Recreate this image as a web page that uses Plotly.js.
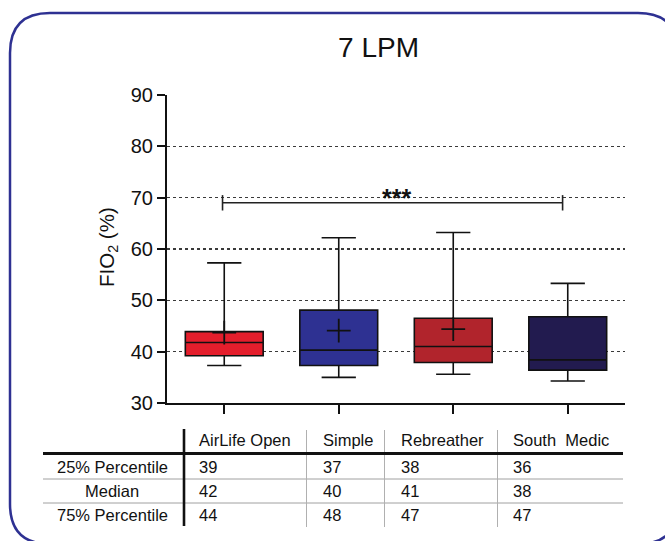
<!DOCTYPE html>
<html>
<head>
<meta charset="utf-8">
<script src="https://cdn.plot.ly/plotly-3.0.1.min.js"></script>
<style>
  html, body { margin: 0; padding: 0; background: #ffffff; }
  #chart { width: 665px; height: 541px; }
</style>
</head>
<body>
<div id="chart"></div>
<script>
// ---------------- data ----------------
const categories = ['AirLife Open', 'Simple', 'Rebreather', 'South Medic'];
const boxColors = ['#e41e2c', '#2e3192', '#b1242c', '#221b4f'];
const lowerWhisker = [37.3, 35.0, 35.6, 34.3];
const q1Values = [39.2, 37.3, 37.9, 36.4];
const medianValues = [41.8, 40.3, 41.0, 38.4];
const q3Values = [43.9, 48.1, 46.5, 46.8];
const upperWhisker = [57.3, 62.2, 63.2, 53.3];
const meanValues = [43.7, 44.1, 44.4, null];

const yTicks = [30, 40, 50, 60, 70, 80, 90];

const sigFrom = 0, sigTo = 3, sigLevel = 69, sigLabel = '***';

const tableHeader = ['AirLife Open', 'Simple', 'Rebreather', 'South\u00a0 Medic'];
const tableRowLabels = ['25% Percentile', 'Median', '75% Percentile'];
const tableP25 = [39, 37, 38, 36];
const tableMedian = [42, 40, 41, 38];
const tableP75 = [44, 48, 47, 47];

// ---------------- layout geometry ----------------
const W = 665, H = 541;
const M = { l: 167, r: 40, t: 95, b: 138 };
const PW = W - M.l - M.r, PH = H - M.t - M.b;
const px = x => (x - M.l) / PW;            // pixel x -> paper x
const py = y => (H - M.b - y) / PH;        // pixel y -> paper y

const FONT = '"Liberation Sans", Arial, Helvetica, sans-serif';

// ---------------- traces ----------------
const traces = [];
categories.forEach((c, i) => {
  traces.push({
    type: 'box',
    name: c,
    x: [i],
    q1: [q1Values[i]],
    median: [medianValues[i]],
    q3: [q3Values[i]],
    lowerfence: [lowerWhisker[i]],
    upperfence: [upperWhisker[i]],
    boxpoints: false,
    width: 0.68,
    whiskerwidth: 0.44,
    fillcolor: boxColors[i],
    line: { color: '#111111', width: 1.6 },
    hoverinfo: 'skip'
  });
});
const meanX = [], meanY = [];
meanValues.forEach((m, i) => { if (m !== null) { meanX.push(i); meanY.push(m); } });
traces.push({
  type: 'scatter', mode: 'markers', x: meanX, y: meanY,
  marker: { symbol: 'cross-thin', size: 17, color: '#111111', line: { color: '#111111', width: 1.8 } },
  hoverinfo: 'skip'
});

// ---------------- shapes ----------------
const shapes = [];
// rounded border
(function () {
  const x0 = 10, y0 = 13, x1 = 678, y1 = 544, r = 40;
  const P = (x, y) => px(x).toFixed(5) + ',' + py(y).toFixed(5);
  const path = 'M' + P(x0 + r, y0) + ' L' + P(x1 - r, y0) + ' Q' + P(x1, y0) + ' ' + P(x1, y0 + r) +
    ' L' + P(x1, y1 - r) + ' Q' + P(x1, y1) + ' ' + P(x1 - r, y1) +
    ' L' + P(x0 + r, y1) + ' Q' + P(x0, y1) + ' ' + P(x0, y1 - r) +
    ' L' + P(x0, y0 + r) + ' Q' + P(x0, y0) + ' ' + P(x0 + r, y0) + ' Z';
  shapes.push({ type: 'path', xref: 'paper', yref: 'paper', path: path,
    line: { color: '#2e3192', width: 2.5 }, fillcolor: 'rgba(0,0,0,0)', layer: 'above' });
})();
// significance bracket
shapes.push({ type: 'line', xref: 'x', yref: 'y', x0: sigFrom - 0.015, x1: sigTo - 0.045, y0: sigLevel, y1: sigLevel,
  line: { color: '#222', width: 1.6 }, layer: 'above' });
[sigFrom - 0.015, sigTo - 0.045].forEach(xv => shapes.push({ type: 'line', xref: 'x', yref: 'y', x0: xv, x1: xv,
  y0: sigLevel - 1.5, y1: sigLevel + 1.5, line: { color: '#222', width: 1.6 }, layer: 'above' }));

// table lines
const hLine = (y, x0, x1, color, w) => shapes.push({ type: 'line', xref: 'paper', yref: 'paper',
  x0: px(x0), x1: px(x1), y0: py(y), y1: py(y), line: { color: color, width: w } });
const vLine = (x, y0, y1, color, w) => shapes.push({ type: 'line', xref: 'paper', yref: 'paper',
  x0: px(x), x1: px(x), y0: py(y0), y1: py(y1), line: { color: color, width: w } });
hLine(479, 43, 623, '#a0a0a0', 1);
hLine(503, 43, 623, '#a0a0a0', 1);
[306.5, 384.5, 497.5].forEach(x => vLine(x, 430, 527, '#b0b0b0', 1));
hLine(453.5, 43, 623, '#111111', 3);
vLine(184, 429, 526, '#111111', 2.6);

// ---------------- annotations ----------------
const annotations = [];
annotations.push({ xref: 'x', yref: 'y', x: (sigFrom + sigTo) / 2, y: sigLevel, text: '<b>' + sigLabel + '</b>',
  showarrow: false, xanchor: 'center', yanchor: 'bottom', yshift: -11,
  font: { family: FONT, size: 25, color: '#111' } });
annotations.push({ xref: 'paper', yref: 'paper', x: px(108), y: py(247), text: 'FIO<sub>2</sub> (%)',
  textangle: -90, showarrow: false, xanchor: 'center', yanchor: 'middle',
  font: { family: FONT, size: 20.5, color: '#111' } });

const colX = [197, 321, 399, 511];
const headerY = 440;
const rowY = [466.5, 491, 515];
tableHeader.forEach((t, j) => annotations.push({ xref: 'paper', yref: 'paper', x: px(colX[j]), y: py(headerY),
  text: t, showarrow: false, xanchor: 'left', yanchor: 'middle', font: { family: FONT, size: 16.5, color: '#111' } }));
const tableRowsData = [tableP25, tableMedian, tableP75];
tableRowLabels.forEach((lab, i) => {
  annotations.push({ xref: 'paper', yref: 'paper', x: px(112), y: py(rowY[i]), text: lab, showarrow: false,
    xanchor: 'center', yanchor: 'middle', font: { family: FONT, size: 16.5, color: '#111' } });
  tableRowsData[i].forEach((v, j) => annotations.push({ xref: 'paper', yref: 'paper', x: px(colX[j]), y: py(rowY[i]),
    text: String(v), showarrow: false, xanchor: 'left', yanchor: 'middle', font: { family: FONT, size: 16.5, color: '#111' } }));
});

const layout = {
  width: W, height: H,
  margin: M,
  paper_bgcolor: '#ffffff', plot_bgcolor: '#ffffff',
  showlegend: false,
  boxmode: 'overlay',
  title: { text: '7 LPM', x: 378.5 / W, xanchor: 'center', y: 1 - 47 / H, yanchor: 'middle',
    font: { family: FONT, size: 28, color: '#111' } },
  xaxis: { range: [-0.5, 3.5], tickvals: [0, 1, 2, 3], showticklabels: false, showgrid: false, zeroline: false,
    showline: true, linecolor: '#111', linewidth: 2, ticks: 'outside', ticklen: 9, tickwidth: 2, tickcolor: '#111',
    fixedrange: true },
  yaxis: { range: [30, 90], tickvals: yTicks, showgrid: true, gridcolor: '#3a3a3a', griddash: 'dot', gridwidth: 1.5,
    zeroline: false, showline: true, linecolor: '#111', linewidth: 2, ticks: 'outside', ticklen: 8, tickwidth: 2,
    tickcolor: '#111', tickfont: { family: FONT, size: 20, color: '#111' }, fixedrange: true },
  shapes: shapes,
  annotations: annotations
};

Plotly.newPlot('chart', traces, layout, { displayModeBar: false, staticPlot: true });
</script>
</body>
</html>
